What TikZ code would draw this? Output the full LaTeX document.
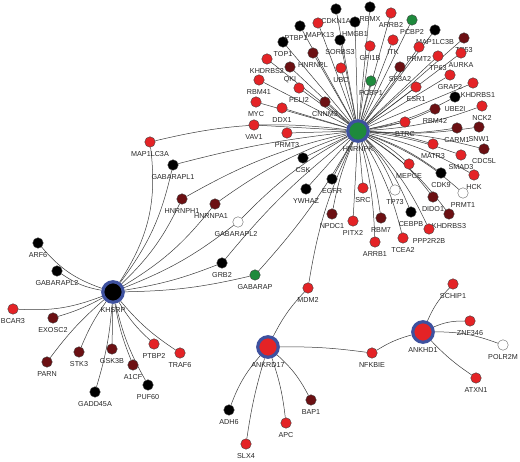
\documentclass[tikz,border=0pt]{standalone}
\usepackage{fontspec}
\setmainfont{Liberation Sans}
\usepackage{tikz}
\usetikzlibrary{backgrounds}

\definecolor{upred}{HTML}{E42326}
\definecolor{deepred}{HTML}{6C1013}
\definecolor{leafgreen}{HTML}{1E8A3C}
\definecolor{ringblue}{HTML}{3E519F}
\definecolor{linkgray}{HTML}{3A3A3A}

\tikzset{
  gene/.style={circle, draw=black!75, line width=0.4pt, minimum size=10.5pt, inner sep=0pt},
  redgene/.style={gene, fill=upred},
  darkgene/.style={gene, fill=deepred},
  blackgene/.style={gene, fill=black},
  greengene/.style={gene, fill=leafgreen},
  whitegene/.style={gene, fill=white, draw=black!60},
  hubnode/.style={circle, draw=ringblue, line width=3.2pt, minimum size=20.5pt, inner sep=0pt},
  every label/.style={font=\fontsize{7.2}{8}\selectfont, inner sep=0pt, text=black!85},
  label distance=3.8pt,
  every edge/.style={draw=linkgray, line width=0.5pt}
}

\begin{document}
\begin{tikzpicture}[x=1pt, y=-1pt]
\useasboundingbox (0,0) rectangle (520,462);

% hubs
\node[hubnode, fill=leafgreen, label=below:HNRNPK]  (HNRNPK)  at (358,131) {};
\node[hubnode, fill=black,     label=below:KHSRP]   (KHSRP)   at (113,292) {};
\node[hubnode, fill=upred,     label=below:ANKRD17] (ANKRD17) at (268,347) {};
\node[hubnode, fill=upred,     label=below:ANKHD1]  (ANKHD1)  at (423,332) {};

% HNRNPK partners
\node[blackgene, label=below:CDKN1A]   (CDKN1A)   at (336,9)   {};
\node[blackgene, label=below:RBMX]     (RBMX)     at (370,7)   {};
\node[redgene,   label=below:ARRB2]    (ARRB2)    at (391,13)  {};
\node[greengene, label=below:PCBP2]    (PCBP2)    at (412,20)  {};
\node[blackgene, label=below:MAP1LC3B] (MAP1LC3B) at (435,30)  {};
\node[darkgene,  label=below:TP53]     (TP53)     at (464,38)  {};
\node[redgene,   label=below:ITK]      (ITK)      at (393,40)  {};
\node[redgene,   label=below:PRMT2]    (PRMT2)    at (419,47)  {};
\node[redgene,   label=below:TP63]     (TP63)     at (438,56)  {};
\node[redgene,   label=below:AURKA]    (AURKA)    at (461,53)  {};
\node[darkgene,  label=below:SF3A2]    (SF3A2)    at (400,67)  {};
\node[redgene,   label=below:GRAP2]    (GRAP2)    at (450,75)  {};
\node[redgene,   label={[xshift=5pt]below:KHDRBS1}] (KHDRBS1) at (473,83) {};
\node[redgene,   label=below:ESR1]     (ESR1)     at (416,87)  {};
\node[blackgene, label=below:UBE2I]    (UBE2I)    at (455,97)  {};
\node[redgene,   label=below:NCK2]     (NCK2)     at (482,106) {};
\node[darkgene,  label=below:RBM42]    (RBM42)    at (435,109) {};
\node[darkgene,  label=below:CARM1]    (CARM1)    at (457,128) {};
\node[darkgene,  label=below:SNW1]     (SNW1)     at (479,127) {};
\node[redgene,   label=below:BTRC]     (BTRC)     at (405,122) {};
\node[redgene,   label=below:MATR3]    (MATR3)    at (433,144) {};
\node[redgene,   label=below:SMAD3]    (SMAD3)    at (461,155) {};
\node[darkgene,  label=below:CDC5L]    (CDC5L)    at (484,149) {};
\node[redgene,   label=below:MEPCE]    (MEPCE)    at (409,164) {};
\node[blackgene, label=below:CDK9]     (CDK9)     at (441,173) {};
\node[redgene,   label=below:HCK]      (HCK)      at (474,175) {};
\node[whitegene, label=below:PRMT1]    (PRMT1)    at (463,193) {};
\node[darkgene,  label=below:DIDO1]    (DIDO1)    at (433,197) {};
\node[whitegene, label=below:TP73]     (TP73)     at (395,190) {};
\node[blackgene, label=below:CEBPB]    (CEBPB)    at (411,212) {};
\node[darkgene,  label=below:KHDRBS3]  (KHDRBS3)  at (449,214) {};
\node[redgene,   label=below:PPP2R2B]  (PPP2R2B)  at (429,229) {};
\node[redgene,   label=below:TCEA2]    (TCEA2)    at (403,238) {};
\node[redgene,   label=below:SRC]      (SRC)      at (363,188) {};
\node[darkgene,  label=below:RBM7]     (RBM7)     at (381,218) {};
\node[redgene,   label=below:ARRB1]    (ARRB1)    at (375,242) {};
\node[redgene,   label=below:PITX2]    (PITX2)    at (353,221) {};
\node[darkgene,  label=below:NPDC1]    (NPDC1)    at (332,214) {};
\node[blackgene, label=below:EGFR]     (EGFR)     at (332,179) {};
\node[blackgene, label=below:YWHAZ]    (YWHAZ)    at (306,189) {};
\node[blackgene, label=below:CSK]      (CSK)      at (303,158) {};
\node[redgene,   label=below:PRMT3]    (PRMT3)    at (287,133) {};
\node[redgene,   label=below:DDX1]     (DDX1)     at (282,108) {};
\node[darkgene,  label=below:CNNM3]    (CNNM3)    at (325,102) {};
\node[redgene,   label=below:PELI2]    (PELI2)    at (299,88)  {};
\node[redgene,   label=below:VAV1]     (VAV1)     at (254,125) {};
\node[redgene,   label=below:MYC]      (MYC)      at (256,102) {};
\node[redgene,   label=below:RBM41]    (RBM41)    at (259,80)  {};
\node[redgene,   label=below:KHDRBS2]  (KHDRBS2)  at (267,59)  {};
\node[darkgene,  label=below:QKI]      (QKI)      at (290,67)  {};
\node[blackgene, label=below:TOP1]     (TOP1)     at (283,42)  {};
\node[blackgene, label={[xshift=-4pt]below:PTBP1}] (PTBP1) at (300,26) {};
\node[redgene,   label={[xshift=2pt]below:MAPK13}] (MAPK13) at (318,23) {};
\node[darkgene,  label=below:HNRNPL]   (HNRNPL)   at (313,53)  {};
\node[blackgene, label=below:SORBS3]   (SORBS3)   at (340,40)  {};
\node[blackgene, label=below:HMGB1]    (HMGB1)    at (355,22)  {};
\node[redgene,   label=below:UBC]      (UBC)      at (341,68)  {};
\node[redgene,   label=below:GFI1B]    (GFI1B)    at (370,46)  {};
\node[greengene, label=below:PCBP1]    (PCBP1)    at (371,81)  {};

% shared partners
\node[redgene,   label=below:MAP1LC3A]  (MAP1LC3A)  at (150,142) {};
\node[blackgene, label=below:GABARAPL1] (GABARAPL1) at (173,165) {};
\node[darkgene,  label=below:HNRNPH1]   (HNRNPH1)   at (182,199) {};
\node[darkgene,  label={[xshift=-4pt]below:HNRNPA1}]   (HNRNPA1)   at (215,204) {};
\node[whitegene, label={[xshift=-2pt]below:GABARAPL2}] (GABARAPL2) at (238,222) {};
\node[blackgene, label=below:GRB2]      (GRB2)      at (222,263) {};
\node[greengene, label=below:GABARAP]   (GABARAP)   at (255,275) {};
\node[redgene,   label=below:MDM2]      (MDM2)      at (308,288) {};

% KHSRP partners
\node[blackgene, label=below:ARF6]      (ARF6)      at (38,243)  {};
\node[blackgene, label=below:GABARAPL2] (GABARAPL2b) at (57,271) {};
\node[redgene,   label=below:BCAR3]     (BCAR3)     at (13,309)  {};
\node[darkgene,  label=below:EXOSC2]    (EXOSC2)    at (53,318)  {};
\node[darkgene,  label=below:PARN]      (PARN)      at (47,362)  {};
\node[darkgene,  label=below:STK3]      (STK3)      at (79,352)  {};
\node[darkgene,  label=below:GSK3B]     (GSK3B)     at (112,349) {};
\node[darkgene,  label=below:A1CF]      (A1CF)      at (133,365) {};
\node[blackgene, label=below:PUF60]     (PUF60)     at (148,385) {};
\node[blackgene, label=below:GADD45A]   (GADD45A)   at (95,392)  {};
\node[redgene,   label=below:PTBP2]     (PTBP2)     at (154,344) {};
\node[redgene,   label=below:TRAF6]     (TRAF6)     at (180,353) {};

% ANKRD17 and ANKHD1 partners
\node[redgene,   label=below:NFKBIE] (NFKBIE) at (372,353) {};
\node[blackgene, label=below:ADH6]   (ADH6)   at (229,410) {};
\node[darkgene,  label=below:BAP1]   (BAP1)   at (311,400) {};
\node[redgene,   label=below:APC]    (APC)    at (286,423) {};
\node[redgene,   label=below:SLX4]   (SLX4)   at (246,444) {};
\node[redgene,   label=below:SCHIP1] (SCHIP1) at (453,284) {};
\node[redgene,   label=below:ZNF346] (ZNF346) at (470,321) {};
\node[whitegene, label=below:POLR2M] (POLR2M) at (503,345) {};
\node[redgene,   label=below:ATXN1]  (ATXN1)  at (476,378) {};

\begin{scope}[on background layer]
\path
      (HNRNPK) edge (CDKN1A)
      (HNRNPK) edge (RBMX)
      (HNRNPK) edge (ARRB2)
      (HNRNPK) edge (PCBP2)
      (HNRNPK) edge (MAP1LC3B)
      (HNRNPK) edge (TP53)
      (HNRNPK) edge (ITK)
      (HNRNPK) edge (PRMT2)
      (HNRNPK) edge (TP63)
      (HNRNPK) edge (AURKA)
      (HNRNPK) edge (SF3A2)
      (HNRNPK) edge (GRAP2)
      (HNRNPK) edge (KHDRBS1)
      (HNRNPK) edge (ESR1)
      (HNRNPK) edge [bend right=8] (UBE2I)
      (HNRNPK) edge [bend right=8] (NCK2)
      (HNRNPK) edge [bend right=8] (RBM42)
      (HNRNPK) edge [bend right=6] (CARM1)
      (HNRNPK) edge [bend right=6] (SNW1)
      (HNRNPK) edge (BTRC)
      (HNRNPK) edge [bend left=6] (MATR3)
      (HNRNPK) edge [bend left=6] (SMAD3)
      (HNRNPK) edge [bend left=6] (CDC5L)
      (HNRNPK) edge [bend left=8] (MEPCE)
      (HNRNPK) edge [bend left=8] (CDK9)
      (HNRNPK) edge [bend left=8] (HCK)
      (HNRNPK) edge [bend left=10] (PRMT1)
      (HNRNPK) edge [bend left=10] (DIDO1)
      (HNRNPK) edge [bend left=8] (TP73)
      (HNRNPK) edge [bend left=10] (CEBPB)
      (HNRNPK) edge [bend left=10] (KHDRBS3)
      (HNRNPK) edge [bend left=10] (PPP2R2B)
      (HNRNPK) edge [bend left=8] (TCEA2)
      (HNRNPK) edge (SRC)
      (HNRNPK) edge [bend left=6] (RBM7)
      (HNRNPK) edge [bend left=6] (ARRB1)
      (HNRNPK) edge (PITX2)
      (HNRNPK) edge [bend right=6] (NPDC1)
      (HNRNPK) edge (EGFR)
      (HNRNPK) edge (YWHAZ)
      (HNRNPK) edge (CSK)
      (HNRNPK) edge (PRMT3)
      (HNRNPK) edge (DDX1)
      (HNRNPK) edge (CNNM3)
      (HNRNPK) edge (PELI2)
      (HNRNPK) edge (VAV1)
      (HNRNPK) edge (MYC)
      (HNRNPK) edge (RBM41)
      (HNRNPK) edge (KHDRBS2)
      (HNRNPK) edge (QKI)
      (HNRNPK) edge (TOP1)
      (HNRNPK) edge (PTBP1)
      (HNRNPK) edge (MAPK13)
      (HNRNPK) edge (HNRNPL)
      (HNRNPK) edge (SORBS3)
      (HNRNPK) edge (HMGB1)
      (HNRNPK) edge (UBC)
      (HNRNPK) edge (GFI1B)
      (HNRNPK) edge (PCBP1)

      (HNRNPK) edge [bend right=10] (MAP1LC3A)
      (HNRNPK) edge [bend right=4] (GABARAPL1)
      (HNRNPK) edge [bend right=8] (HNRNPH1)
      (HNRNPK) edge [bend right=8] (HNRNPA1)
      (HNRNPK) edge [bend right=8] (GABARAPL2)
      (HNRNPK) edge [bend right=6] (GRB2)
      (HNRNPK) edge [bend left=6] (GABARAP)
      (HNRNPK) edge [bend right=8] (MDM2)

      (KHSRP) edge [bend right=20] (MAP1LC3A)
      (KHSRP) edge [bend right=12] (GABARAPL1)
      (KHSRP) edge [bend right=10] (HNRNPH1)
      (KHSRP) edge [bend right=10] (HNRNPA1)
      (KHSRP) edge [bend right=8] (GABARAPL2)
      (KHSRP) edge [bend right=6] (GRB2)
      (KHSRP) edge [bend right=6] (GABARAP)
      (KHSRP) edge [bend left=15] (ARF6)
      (KHSRP) edge [bend left=12] (GABARAPL2b)
      (KHSRP) edge [bend left=12] (BCAR3)
      (KHSRP) edge [bend left=6] (EXOSC2)
      (KHSRP) edge [bend right=6] (PARN)
      (KHSRP) edge [bend right=6] (STK3)
      (KHSRP) edge (GSK3B)
      (KHSRP) edge [bend right=6] (A1CF)
      (KHSRP) edge [bend right=8] (PUF60)
      (KHSRP) edge [bend left=6] (GADD45A)
      (KHSRP) edge [bend right=8] (PTBP2)
      (KHSRP) edge [bend right=8] (TRAF6)

      (ANKRD17) edge [bend left=8] (MDM2)
      (ANKRD17) edge [bend left=4] (NFKBIE)
      (ANKRD17) edge [bend right=10] (ADH6)
      (ANKRD17) edge [bend left=10] (BAP1)
      (ANKRD17) edge [bend left=6] (APC)
      (ANKRD17) edge [bend right=4] (SLX4)
      (ANKHD1) edge [bend right=8] (NFKBIE)
      (ANKHD1) edge [bend left=10] (SCHIP1)
      (ANKHD1) edge [bend left=12] (ZNF346)
      (ANKHD1) edge [bend left=10] (POLR2M)
      (ANKHD1) edge [bend right=6] (ATXN1);
\end{scope}
\end{tikzpicture}
\end{document}
